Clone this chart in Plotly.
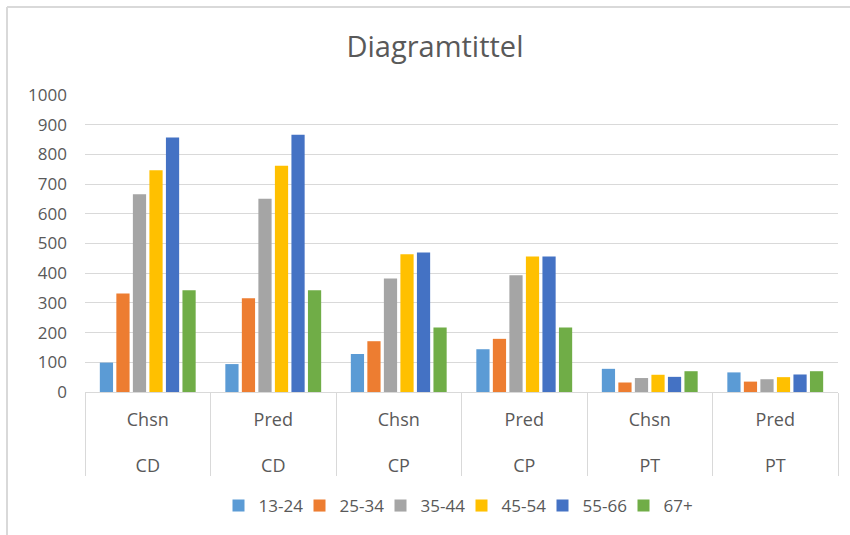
import plotly.graph_objects as go

categories = ["Chsn", "Pred", "Chsn", "Pred", "Chsn", "Pred"]
groups = ["CD", "CD", "CP", "CP", "PT", "PT"]
series_names = ["13-24", "25-34", "35-44", "45-54", "55-66", "67+"]
s_13_24 = [99, 94, 128, 144, 78, 66]
s_25_34 = [332, 316, 171, 179, 32, 35]
s_35_44 = [666, 651, 382, 393, 47, 43]
s_45_54 = [747, 762, 464, 456, 58, 50]
s_55_66 = [857, 866, 470, 456, 51, 59]
s_67 = [343, 343, 217, 217, 70, 70]
series_values = [s_13_24, s_25_34, s_35_44, s_45_54, s_55_66, s_67]
colors = ["#5B9BD5", "#ED7D31", "#A5A5A5", "#FFC000", "#4472C4", "#70AD47"]
y_ticks = list(range(0, 1001, 100))

x_keys = [f"{c}|{g}|{i}" for i, (c, g) in enumerate(zip(categories, groups))]
x_text = [f"{c}<br><br>{g}" for c, g in zip(categories, groups)]

fig = go.Figure()
for name, vals, col in zip(series_names, series_values, colors):
    fig.add_trace(go.Bar(x=x_keys, y=vals, name=name, marker=dict(color=col, line=dict(width=0))))

font_family = "Open Sans, Roboto, sans-serif"
grey = "#595959"
fig.update_layout(
    width=850, height=535,
    margin=dict(l=85, r=12, t=95, b=143, autoexpand=False),
    paper_bgcolor="white", plot_bgcolor="white",
    barmode="group", bargap=0.21, bargroupgap=0.2,
    title=dict(text="Diagramtittel", x=435/850, xanchor="center", y=1 - 47/535, yanchor="middle",
               font=dict(family=font_family, size=29, color=grey)),
    font=dict(family=font_family, color=grey),
    legend=dict(orientation="h", x=0.5, xanchor="center", y=-(506-392)/297, yanchor="middle",
                font=dict(size=17, color=grey), itemwidth=30, entrywidth=36, traceorder="normal"),
    showlegend=True,
    shapes=[
        dict(type="line", xref="paper", yref="paper", x0=-(85-7)/753, x1=(850-85)/753,
             y0=1 + (95-7)/297, y1=1 + (95-7)/297, line=dict(color="#D9D9D9", width=2)),
        dict(type="line", xref="paper", yref="paper", x0=-(85-7)/753, x1=-(85-7)/753,
             y0=1 + (95-7)/297, y1=-(535-392)/297, line=dict(color="#D9D9D9", width=2)),
    ],
)
fig.update_xaxes(
    type="category", tickmode="array", tickvals=x_keys, ticktext=x_text,
    tickson="boundaries", ticks="outside", ticklen=83, tickcolor="#D9D9D9", tickwidth=1,
    ticklabelstandoff=11, automargin=False,
    showgrid=False, showline=True, linecolor="#D9D9D9", linewidth=1,
    tickfont=dict(size=18, color=grey), zeroline=False,
)
fig.update_yaxes(
    range=[0, 1000], tickmode="array", tickvals=y_ticks, automargin=False,
    showgrid=True, gridcolor="#D9D9D9", gridwidth=1, zeroline=False, showline=False,
    tickfont=dict(size=17, color=grey), ticks="", ticklabelstandoff=17,
)
fig.write_html("out.html", config={"displayModeBar": False},
               post_script="document.body.style.margin='0';document.body.style.padding='0';")
